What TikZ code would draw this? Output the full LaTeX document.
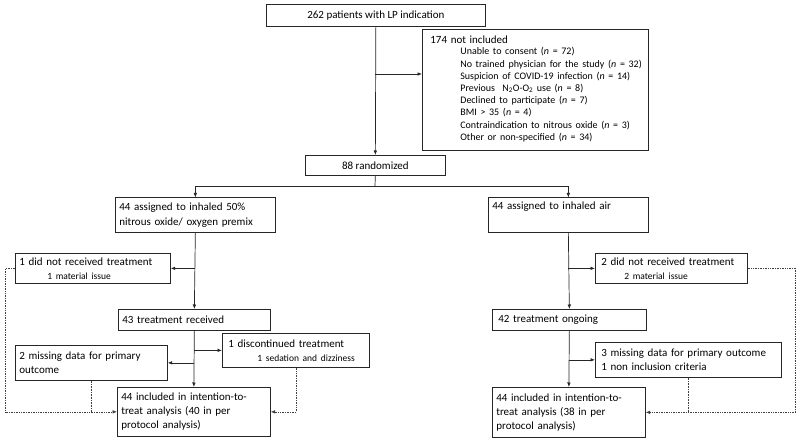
\documentclass[tikz,border=0pt]{standalone}
\usepackage{fontspec}
\setmainfont{Carlito}
\usepackage{tikz}
\usetikzlibrary{arrows.meta,positioning,calc}
\newcommand{\boxfont}{\fontsize{11}{14}\selectfont}
\newcommand{\listfont}{\fontsize{10}{12.2}\selectfont}
\newcommand{\notefont}{\fontsize{9.5}{10}\selectfont}

\begin{document}
\begin{tikzpicture}[x=1pt,y=-1pt,
  box/.style={draw=black!85,line width=0.7pt,anchor=north west,align=left,
              inner xsep=4pt,inner ysep=1pt,font=\boxfont},
  cbox/.style={box,align=center},
  arr/.style={-{Latex[length=4.5pt,width=3.6pt]},line width=0.7pt,black!85},
  dotarr/.style={arr,densely dotted,line width=0.6pt,black!75},
  dotline/.style={densely dotted,line width=0.6pt,black!75}
]
\useasboundingbox (0,0) rectangle (800,443);

% Enrolment
\node[cbox,minimum width=219pt,minimum height=22pt] (lp) at (266,4) {262 patients with LP indication};
\node[box,inner xsep=8pt,text width=210pt,minimum width=226pt,minimum height=121pt] (excl) at (422,29)
  {174 not included\\[-2.5pt]
   \hspace*{30pt}{\listfont\begin{tabular}[t]{@{}l@{}}
     Unable to consent (\textit{n} = 72)\\
     No trained physician for the study (\textit{n} = 32)\\
     Suspicion of COVID-19 infection (\textit{n} = 14)\\
     Previous\ \ N\textsubscript{2}O-O\textsubscript{2} use (\textit{n} = 8)\\
     Declined to participate (\textit{n} = 7)\\
     BMI > 35 (\textit{n} = 4)\\
     Contraindication to nitrous oxide (\textit{n} = 3)\\
     Other or non-specified (\textit{n} = 34)
   \end{tabular}}};
\node[cbox,minimum width=140pt,minimum height=20pt] (rand) at (305,155) {88 randomized};

% Allocation
\node[box,text width=152pt,minimum width=160pt,minimum height=35pt] (armA) at (115,197.5)
  {44 assigned to inhaled 50\%\\[1.5pt]nitrous oxide/ oxygen premix};
\node[box,text width=152pt,minimum width=160pt,minimum height=35pt] (armB) at (488,197.5)
  {44 assigned to inhaled air\\[1.5pt]\strut};

% Nitrous oxide arm
\node[box,text width=147pt,minimum width=155pt,minimum height=30pt] (noA) at (15,253)
  {1 did not received treatment\\\hspace*{28pt}{\notefont 1 material issue}};
\node[box,text width=144pt,minimum width=152pt,minimum height=21pt] (recA) at (118,309) {43 treatment received};
\node[box,inner xsep=6pt,text width=135pt,minimum width=147pt,minimum height=34pt] (discA) at (222,333)
  {1 discontinued treatment\\\hspace*{29pt}{\notefont 1 sedation and dizziness}};
\node[box,text width=144pt,minimum width=152pt,minimum height=35pt] (missA) at (15,345)
  {2 missing data for primary\\outcome};
\node[box,text width=145pt,minimum width=153pt,minimum height=49pt] (ittA) at (117,387)
  {44 included in intention-to-\\treat analysis (40 in per\\protocol analysis)};

% Air arm
\node[box,inner xsep=6pt,text width=140pt,minimum width=152pt,minimum height=30pt] (noB) at (595,253)
  {2 did not received treatment\\\hspace*{23pt}{\notefont 2 material issue}};
\node[box,inner xsep=6pt,text width=142pt,minimum width=154pt,minimum height=21pt] (onB) at (492,309) {42 treatment ongoing};
\node[box,inner xsep=6pt,text width=174pt,minimum width=186pt,minimum height=35pt] (missB) at (595,342)
  {3 missing data for primary outcome\\1 non inclusion criteria};
\node[box,text width=145pt,minimum width=153pt,minimum height=50pt] (ittB) at (492,387)
  {44 included in intention-to-\\treat analysis (38 in per\\protocol analysis)};

% Main flow
\coordinate (excljoin) at (375,74);
\coordinate (split) at (375,186);
\draw[arr] (lp.south) -- (rand.north);
\draw[arr] (excljoin) -- (excljoin -| excl.west);
\draw[line width=0.7pt,black!85] (rand.south) -- (split);
\draw[arr] (split) -| (armA.north);
\draw[arr] (split) -| (armB.north);

\draw[arr] (armA.south) -- (recA.north);
\draw[arr] (armA.south |- noA.east) -- (noA.east);
\draw[arr] (recA.south) -- (ittA.north);
\draw[arr] (recA.south |- discA.west) -- (discA.west);
\draw[arr] (recA.south |- missA.east) -- (missA.east);

\draw[arr] (armB.south) -- (onB.north);
\draw[arr] (armB.south |- noB.west) -- (noB.west);
\draw[arr] (onB.south) -- (ittB.north);
\draw[arr] (onB.south |- missB.west) -- (missB.west);

% Dotted returns to the analysis boxes
\draw[dotarr] (noA.west) -- ++(-9.5,0) |- (ittA.west);
\draw[dotline] (missA.south) -- (missA.south |- ittA.west);
\draw[dotarr] (discA.south) |- (ittA.east);
\draw[dotarr] (noB.east) -- ++(48,0) |- (ittB.east);
\draw[dotline] (missB.south) -- (missB.south |- ittB.east);
\end{tikzpicture}
\end{document}
